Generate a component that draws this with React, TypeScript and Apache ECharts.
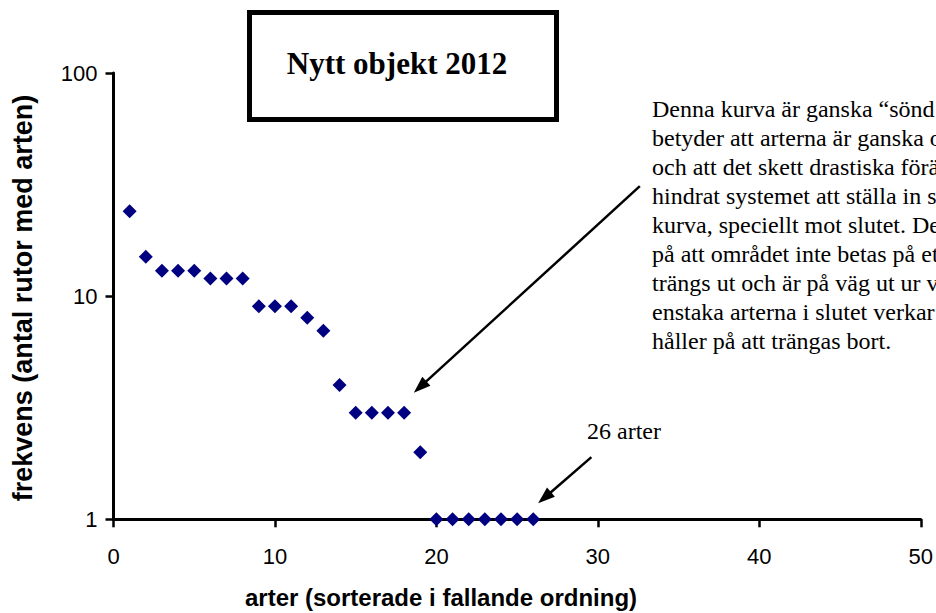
import React, { useEffect, useRef } from "react";
import * as echarts from "echarts";

// rank of species (sorted in falling order) and number of squares where found
const ranks = [1, 2, 3, 4, 5, 6, 7, 8, 9, 10, 11, 12, 13, 14, 15, 16, 17, 18, 19, 20, 21, 22, 23, 24, 25, 26];
const frequency = [24, 15, 13, 13, 13, 12, 12, 12, 9, 9, 9, 8, 7, 4, 3, 3, 3, 3, 2, 1, 1, 1, 1, 1, 1, 1];

const xMin = 0;
const xMax = 50;
const xInterval = 10;
const yMin = 1;
const yMax = 100;

const titleText = "Nytt objekt 2012";
const xAxisTitle = "arter (sorterade i fallande ordning)";
const yAxisTitle = "frekvens (antal rutor med arten)";
const noteLines = [
  "Denna kurva är ganska “sönd",
  "betyder att arterna är ganska o",
  "och att det skett drastiska förä",
  "hindrat systemet att ställa in s",
  "kurva, speciellt mot slutet. De",
  "på att området inte betas på et",
  "trängs ut och är på väg ut ur v",
  "enstaka arterna i slutet verkar",
  "håller på att trängas bort.",
];
const countLabel = "26 arter";

// arrows in data coordinates: [fromX, fromY, toX, toY]
const arrowNote = [32.6, 31.1, 18.6, 3.69];
const arrowCount = [29.6, 1.9, 26.3, 1.18];

const SERIF = '"Liberation Serif", "Times New Roman", serif';
const SANS = '"Liberation Sans", Arial, sans-serif';

function arrowGraphics(chart: echarts.ECharts, a: number[]) {
  const p0 = chart.convertToPixel({ gridIndex: 0 }, [a[0], a[1]]) as number[];
  const p1 = chart.convertToPixel({ gridIndex: 0 }, [a[2], a[3]]) as number[];
  const dx = p1[0] - p0[0];
  const dy = p1[1] - p0[1];
  const len = Math.sqrt(dx * dx + dy * dy);
  const ux = dx / len;
  const uy = dy / len;
  const nx = -uy;
  const ny = ux;
  const L = 17;
  const W = 12;
  const bx = p1[0] - ux * L;
  const by = p1[1] - uy * L;
  return [
    {
      type: "line",
      shape: { x1: p0[0], y1: p0[1], x2: bx + ux * 2, y2: by + uy * 2 },
      style: { stroke: "#000", lineWidth: 2.5 },
      z: 50,
    },
    {
      type: "polygon",
      shape: {
        points: [
          [p1[0], p1[1]],
          [bx + (nx * W) / 2, by + (ny * W) / 2],
          [bx - (nx * W) / 2, by - (ny * W) / 2],
        ],
      },
      style: { fill: "#000" },
      z: 50,
    },
  ];
}

export default function App() {
  const ref = useRef<HTMLDivElement>(null);

  useEffect(() => {
    if (!ref.current) return;
    const chart = echarts.init(ref.current, null, { renderer: "svg" });
    chart.setOption({
      animation: false,
      backgroundColor: "#fff",
      grid: { left: 113.5, right: 14.5, top: 73, bottom: 93.7, containLabel: false },
      xAxis: {
        type: "value",
        min: xMin,
        max: xMax,
        interval: xInterval,
        splitLine: { show: false },
        axisLine: { lineStyle: { color: "#000", width: 3 } },
        axisTick: { length: 8, lineStyle: { color: "#000", width: 2.5 } },
        axisLabel: { color: "#000", fontFamily: SANS, fontSize: 22, margin: 26 },
      },
      yAxis: {
        type: "log",
        logBase: 10,
        min: yMin,
        max: yMax,
        splitLine: { show: false },
        minorTick: { show: false },
        axisLine: { show: true, lineStyle: { color: "#000", width: 3 } },
        axisTick: { show: true, length: 8, lineStyle: { color: "#000", width: 2.5 } },
        axisLabel: { color: "#000", fontFamily: SANS, fontSize: 22, margin: 16 },
      },
      series: [
        {
          type: "scatter",
          data: ranks.map((r, i) => [r, frequency[i]]),
          symbol: "diamond",
          symbolSize: 14,
          itemStyle: { color: "#000080", opacity: 1 },
          z: 10,
        },
      ],
    });

    const graphics: any[] = [
      {
        type: "rect",
        shape: { x: 249.5, y: 12.5, width: 307, height: 107 },
        style: { fill: "#fff", stroke: "#000", lineWidth: 5 },
        z: 40,
      },
      {
        type: "text",
        x: 397,
        y: 63,
        style: {
          text: titleText,
          font: `bold 31px ${SERIF}`,
          fill: "#000",
          align: "center",
          verticalAlign: "middle",
        },
        z: 41,
      },
      {
        type: "text",
        x: 652,
        y: 94.5,
        style: {
          text: noteLines.join("\n"),
          font: `24px ${SERIF}`,
          lineHeight: 29,
          fill: "#000",
          align: "left",
          verticalAlign: "top",
        },
        z: 41,
      },
      {
        type: "text",
        x: 587,
        y: 431,
        style: {
          text: countLabel,
          font: `24px ${SERIF}`,
          fill: "#000",
          align: "left",
          verticalAlign: "middle",
        },
        z: 41,
      },
      {
        type: "text",
        x: 441,
        y: 597,
        style: {
          text: xAxisTitle,
          font: `bold 24px ${SANS}`,
          fill: "#000",
          align: "center",
          verticalAlign: "middle",
        },
        z: 41,
      },
      {
        type: "text",
        x: 22.5,
        y: 298,
        rotation: Math.PI / 2,
        style: {
          text: yAxisTitle,
          font: `bold 27px ${SANS}`,
          fill: "#000",
          align: "center",
          verticalAlign: "middle",
        },
        z: 41,
      },
      ...arrowGraphics(chart, arrowNote),
      ...arrowGraphics(chart, arrowCount),
    ];
    chart.setOption({ graphic: graphics });

    return () => chart.dispose();
  }, []);

  return (
    <div
      ref={ref}
      style={{ position: "fixed", left: 0, top: 0, width: 936, height: 613 }}
    />
  );
}
